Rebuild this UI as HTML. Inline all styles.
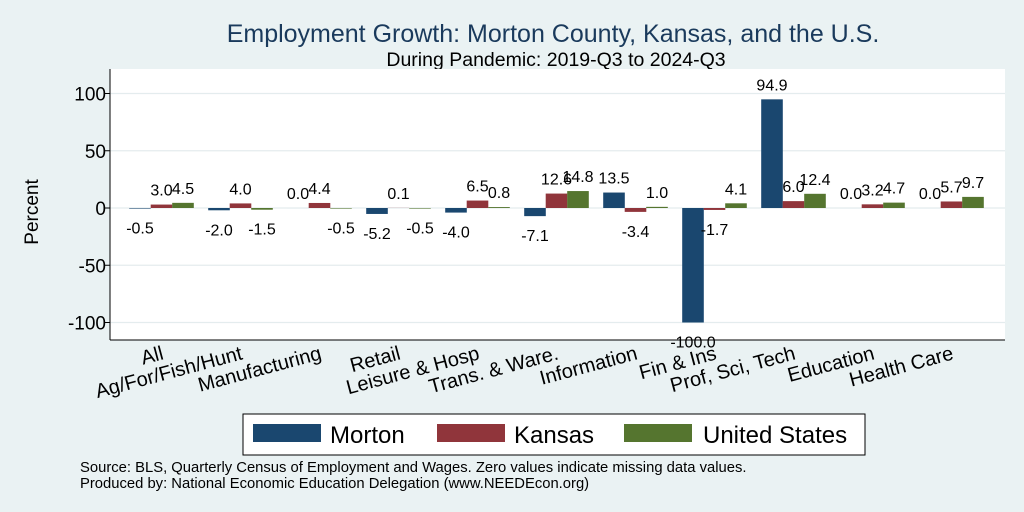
<!DOCTYPE html>
<html><head><meta charset="utf-8"><style>
body{margin:0;background:#eaf2f3;}
svg{display:block;font-family:"Liberation Sans",Arial,sans-serif;}
</style></head><body>
<svg width="1024" height="512" viewBox="0 0 1024 512">
<rect x="0" y="0" width="1024" height="512" fill="#eaf2f3"/>
<text x="553" y="42" font-size="25" fill="#1a3a5c" text-anchor="middle">Employment Growth: Morton County, Kansas, and the U.S.</text>
<text x="556" y="66" font-size="19.5" fill="#000" text-anchor="middle">During Pandemic: 2019-Q3 to 2024-Q3</text>
<rect x="110" y="69" width="895" height="271" fill="#fff"/>
<g id="grid"></g>
<g id="bars"></g>
<g id="labels"></g>
<g id="xlabels"></g>
<line x1="110" y1="340" x2="1005" y2="340" stroke="#000" stroke-width="1"/>
<line x1="110" y1="69" x2="110" y2="340" stroke="#000" stroke-width="1"/>
<text transform="translate(38,212) rotate(-90)" font-size="19" text-anchor="middle">Percent</text>
<g>
<rect x="243" y="414" width="622" height="41" fill="#fff" stroke="#000" stroke-width="1"/>
<rect x="253" y="424" width="68" height="18" fill="#1a476f"/>
<text x="330" y="443" font-size="24">Morton</text>
<rect x="437" y="424" width="68" height="18" fill="#90353b"/>
<text x="514" y="443" font-size="24">Kansas</text>
<rect x="624" y="424" width="68" height="18" fill="#55752f"/>
<text x="703" y="443" font-size="24">United States</text>
</g>
<text x="80" y="472" font-size="14.8">Source: BLS, Quarterly Census of Employment and Wages. Zero values indicate missing data values.</text>
<text x="80" y="488" font-size="14.8">Produced by: National Economic Education Delegation (www.NEEDEcon.org)</text>
</svg>
<script>
const categories=["All","Ag/For/Fish/Hunt","Manufacturing","Retail","Leisure & Hosp","Trans. & Ware.","Information","Fin & Ins","Prof, Sci, Tech","Education","Health Care"];
const morton=[-0.5,-2.0,0.0,-5.2,-4.0,-7.1,13.5,-100.0,94.9,0.0,0.0];
const kansas=[3.0,4.0,4.4,0.1,6.5,12.6,-3.4,-1.7,6.0,3.2,5.7];
const us=[4.5,-1.5,-0.5,-0.5,0.8,14.8,1.0,4.1,12.4,4.7,9.7];
const yTicks=[-100,-50,0,50,100];
const NS="http://www.w3.org/2000/svg";
function y(v){return 208-v*1.145;}
function xc(i){return 161.5+i*79;}
function mk(tag,attrs,parent){const e=document.createElementNS(NS,tag);for(const k in attrs)e.setAttribute(k,attrs[k]);document.getElementById(parent).appendChild(e);return e;}
yTicks.forEach(t=>{
 const g=mk('line',{x1:110,x2:1005,y1:y(t),y2:y(t),stroke:'#e4ecee','stroke-width':1.2},'grid');
 
 
 const tk=mk('line',{x1:104,x2:110,y1:y(t),y2:y(t),stroke:'#000'},'grid');
 
 
 const tx=mk('text',{x:106,y:y(t)+7,'font-size':19,'text-anchor':'end'},'grid');
 tx.textContent=t;
 
 
});
const series=[[morton,'#1a476f',-21.5,'morton'],[kansas,'#90353b',0,'kansas'],[us,'#55752f',21.5,'us']];
categories.forEach((c,i)=>{
 series.forEach(([arr,col,off,nm])=>{
  const v=arr[i],cx=xc(i)+off;
  const top=Math.min(y(v),y(0)),h=Math.abs(y(v)-y(0));
  const r=mk('rect',{x:cx-10.8,y:top,width:21.6,height:Math.max(h,0.01),fill:col},'bars');
  
  
  const ly=v>=0?y(v)-9:y(v)+25;
  const t=mk('text',{x:cx,y:ly,'font-size':16,'text-anchor':'middle'},'labels');
  t.textContent=v.toFixed(1);
  
  
 });
 const t=mk('text',{transform:`translate(${xc(i)+3},359) rotate(-15)`,'font-size':20,'text-anchor':'end'},'xlabels');
 t.textContent=c;
 
 
});
</script>
</body></html>
